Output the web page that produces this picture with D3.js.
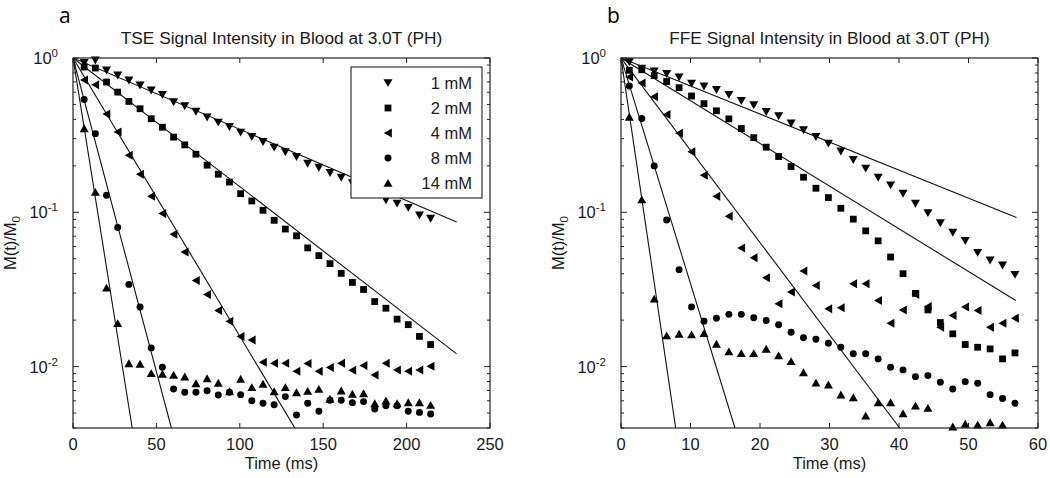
<!DOCTYPE html>
<html><head><meta charset="utf-8">
<script src="https://cdn.jsdelivr.net/npm/d3@7"></script>
<style>body{margin:0;background:#fff}svg{font-family:"Liberation Sans",Arial,sans-serif}</style>
</head><body><svg id="c" width="1050" height="478"></svg>
<script>
const seriesNames = ["1 mM","2 mM","4 mM","8 mM","14 mM"];
const markerShapes = ["down","square","left","circle","up"];

// Panel a: TSE
const timesA = [6.7,13.4,20.1,26.8,33.5,40.2,46.9,53.6,60.3,67.0,73.7,80.4,87.1,93.8,100.5,107.2,113.9,120.6,127.3,134.0,140.7,147.4,154.1,160.8,167.5,174.2,180.9,187.6,194.3,201.0,207.7,214.4];
const tse1 = [0.93,0.966,0.832,0.772,0.716,0.665,0.617,0.578,0.518,0.488,0.449,0.412,0.382,0.358,0.329,0.308,0.286,0.263,0.246,0.229,0.207,0.195,0.180,0.168,0.155,0.145,0.135,0.120,0.114,0.107,0.0956,0.091];
const tse2 = [0.874,0.861,0.699,0.601,0.523,0.469,0.404,0.356,0.307,0.2735,0.238,0.202,0.1765,0.157,0.132,0.1184,0.103,0.0887,0.0779,0.0704,0.0588,0.0524,0.0465,0.0402,0.0351,0.0316,0.0264,0.0239,0.0203,0.0187,0.0157,0.0139];
const tse4 = [0.720,0.671,0.433,0.331,0.2345,0.1765,0.127,0.0981,0.0720,0.0552,0.0362,0.0293,0.0231,0.0197,0.01566,0.0149,0.01066,0.0105,0.0105,0.00932,0.01046,0.00932,0.00985,0.0105,0.00946,0.01015,0.00883,0.0105,0.00952,0.00932,0.00952,0.01005];
const tse8 = [0.538,0.3234,0.129,0.0796,0.0341,0.0243,0.01322,0.0099,0.00716,0.00681,0.00681,0.00698,0.00655,0.00681,0.00658,0.00601,0.00578,0.00566,0.00639,0.00486,0.00578,0.00513,0.00606,0.00606,0.00584,0.00593,0.00531,0.00558,0.00558,0.00513,0.00505,0.00493];
const tse14 = [0.3496,0.1354,0.0324,0.0191,0.0105,0.0104,0.00905,0.00897,0.00883,0.00861,0.00779,0.00839,0.00784,0.00691,0.00832,0.00734,0.00772,0.00691,0.00734,0.00681,0.00695,0.00716,0.00617,0.00698,0.00665,0.00671,0.00578,0.00601,0.00578,0.00586,0.00586,0.00564];
const fitEndTimeA = [230,230,133,59,35.5];
const fitEndValueA = [0.0865,0.0121,0.004,0.004,0.004];

// Panel b: FFE
const timesB = [1.2,2.99,4.78,6.57,8.36,10.15,11.94,13.73,15.52,17.31,19.1,20.89,22.68,24.47,26.26,28.05,29.84,31.63,33.42,35.21,37.0,38.79,40.58,42.37,44.16,45.95,47.74,49.53,51.32,53.11,54.9,56.69];
const ffe1 = [0.942,0.855,0.821,0.790,0.750,0.683,0.655,0.622,0.578,0.528,0.495,0.448,0.420,0.3767,0.3406,0.3083,0.2793,0.2482,0.2189,0.1922,0.168,0.1497,0.1322,0.1139,0.099,0.0852,0.0739,0.0653,0.0547,0.0488,0.0453,0.0394];
const ffe2 = [0.832,0.839,0.769,0.704,0.642,0.567,0.506,0.455,0.403,0.349,0.3046,0.2643,0.2299,0.198,0.1688,0.1432,0.1246,0.1062,0.0903,0.0758,0.0653,0.0513,0.040,0.0298,0.0233,0.0193,0.0163,0.0139,0.01334,0.01302,0.01122,0.01227];
const ffe4 = [0.753,0.688,0.560,0.431,0.325,0.247,0.1739,0.127,0.0942,0.0586,0.0508,0.0377,0.0255,0.0304,0.0416,0.0336,0.0237,0.0241,0.0344,0.0344,0.0268,0.0191,0.0233,0.0293,0.0245,0.018,0.0214,0.0243,0.0231,0.018,0.0191,0.0206];
const ffe8 = [0.658,0.405,0.1999,0.0892,0.0425,0.0243,0.0197,0.0206,0.0218,0.0218,0.0207,0.0199,0.01866,0.0167,0.01536,0.01502,0.01417,0.01334,0.0121,0.0121,0.01122,0.0099,0.00952,0.00861,0.00874,0.00791,0.00716,0.00799,0.00779,0.00658,0.00622,0.00578];
const ffe14 = [0.415,0.121,0.0275,0.0159,0.0163,0.01613,0.01645,0.01404,0.01252,0.0122,0.0122,0.01303,0.01179,0.01082,0.00918,0.00785,0.00764,0.00658,0.00632,0.0048,0.00586,0.00586,0.00497,0.00558,0.00539,0.00398,0.00408,0.00425,0.0042,0.00435,0.0042,0.0038];
const fitEndTimeB = [56.9,56.8,40.1,16.4,7.87];
const fitEndValueB = [0.0924,0.0268,0.004,0.004,0.004];

const xTicksA = [0,50,100,150,200,250];
const xTicksB = [0,10,20,30,40,50,60];
const yMajor = [1,0.1,0.01];
const yExp = ["0","-1","-2"];
const yDomain = [0.004,1];

const titles = ["TSE Signal Intensity in Blood at 3.0T (PH)","FFE Signal Intensity in Blood at 3.0T (PH)"];
const panelLetters = ["a","b"];

const svg = d3.select("#c");
const W = 417, H = 370, TOP = 58;
const AX = "#222";

function markerPath(shape){
  switch(shape){
    case "down": return "M-4.5,-3.8L4.5,-3.8L0,4.1Z";
    case "up": return "M-4.5,3.8L4.5,3.8L0,-4.1Z";
    case "left": return "M3.8,-4.5L3.8,4.5L-4.1,0Z";
    case "square": return "M-3.4,-3.4H3.4V3.4H-3.4Z";
    case "circle": return d3.symbol(d3.symbolCircle, 38)();
  }
}

function drawPanel(idx, left, times, series, xmax, xTicks, fitT, fitV, withLegend){
  const g = svg.append("g").attr("transform", `translate(${left},${TOP})`);
  const x = d3.scaleLinear().domain([0,xmax]).range([0,W]);
  const y = d3.scaleLog().domain(yDomain).range([H,0]);
  const cid = "clip"+idx;
  g.append("clipPath").attr("id",cid).append("rect").attr("width",W).attr("height",H);

  const lg = g.append("g").attr("clip-path",`url(#${cid})`);
  fitT.forEach((t,i)=>{
    lg.append("path").attr("d", d3.line()([[x(0),y(1)],[x(t),y(fitV[i])]]))
      .attr("stroke","#111").attr("stroke-width",1.1).attr("fill","none");
  });

  series.forEach((vals,si)=>{
    g.append("g").selectAll("path").data(vals.map((v,i)=>({t:times[i],v})).filter(d=>d.v>=yDomain[0]))
      .join("path").attr("d", markerPath(markerShapes[si]))
      .attr("transform", d=>`translate(${x(d.t)},${y(d.v)})`)
      .attr("fill","#000");
  });

  g.append("rect").attr("width",W).attr("height",H).attr("fill","none").attr("stroke",AX).attr("stroke-width",1.2);

  xTicks.forEach(t=>{
    g.append("line").attr("x1",x(t)).attr("x2",x(t)).attr("y1",H).attr("y2",H-5).attr("stroke",AX);
    g.append("line").attr("x1",x(t)).attr("x2",x(t)).attr("y1",0).attr("y2",5).attr("stroke",AX);
    g.append("text").attr("x",x(t)).attr("y",H+22).attr("text-anchor","middle")
      .attr("font-size",16.5).attr("fill","#1a1a1a").text(t);
  });

  const minors = [];
  [0.001,0.01,0.1].forEach(d=>{ for(let m=2;m<=9;m++){ const v=m*d; if(v>=yDomain[0] && v<1) minors.push(v);} });
  minors.forEach(v=>{
    g.append("line").attr("x1",0).attr("x2",3).attr("y1",y(v)).attr("y2",y(v)).attr("stroke",AX);
    g.append("line").attr("x1",W).attr("x2",W-3).attr("y1",y(v)).attr("y2",y(v)).attr("stroke",AX);
  });
  yMajor.forEach((v,i)=>{
    g.append("line").attr("x1",0).attr("x2",6).attr("y1",y(v)).attr("y2",y(v)).attr("stroke",AX);
    g.append("line").attr("x1",W).attr("x2",W-6).attr("y1",y(v)).attr("y2",y(v)).attr("stroke",AX);
    const tx = g.append("text").attr("x",-15).attr("y",y(v)+6).attr("text-anchor","end")
      .attr("font-size",16.5).attr("fill","#1a1a1a");
    tx.append("tspan").text("10");
    tx.append("tspan").attr("dy",-7).attr("font-size",11.5).text(yExp[i]);
  });

  g.append("text").attr("x",W/2).attr("y",H+41).attr("text-anchor","middle")
    .attr("font-size",16.5).attr("fill","#1a1a1a").text("Time (ms)");
  const yl = g.append("text").attr("transform",`translate(-57,${H/2}) rotate(-90)`)
    .attr("text-anchor","middle").attr("font-size",16.5).attr("fill","#1a1a1a");
  yl.append("tspan").text("M(t)/M");
  yl.append("tspan").attr("dy",4).attr("font-size",11.5).text("0");

  g.append("text").attr("x",W/2).attr("y",-14).attr("text-anchor","middle")
    .attr("font-size",17.3).attr("fill","#1a1a1a").text(titles[idx]);
  svg.append("text").attr("x",left-14).attr("y",23).attr("font-size",21)
    .attr("font-family","'Open Sans',sans-serif").attr("fill","#000").text(panelLetters[idx]);

  if(withLegend){
    const lx = 278, ly = 9, lw = 131, lh = 131;
    const leg = g.append("g");
    leg.append("rect").attr("x",lx).attr("y",ly).attr("width",lw).attr("height",lh)
      .attr("fill","#fff").attr("stroke",AX).attr("stroke-width",1.1);
    seriesNames.forEach((n,i)=>{
      const yy = ly + 16 + i*25;
      leg.append("path").attr("d",markerPath(markerShapes[i])).attr("transform",`translate(${lx+37},${yy})`).attr("fill","#000");
      leg.append("text").attr("x",lx+lw-10).attr("y",yy+6).attr("text-anchor","end")
        .attr("font-size",16.5).attr("fill","#1a1a1a").text(n);
    });
  }
}

drawPanel(0, 73, timesA, [tse1,tse2,tse4,tse8,tse14], 250, xTicksA, fitEndTimeA, fitEndValueA, true);
drawPanel(1, 621, timesB, [ffe1,ffe2,ffe4,ffe8,ffe14], 60, xTicksB, fitEndTimeB, fitEndValueB, false);
</script></body></html>
